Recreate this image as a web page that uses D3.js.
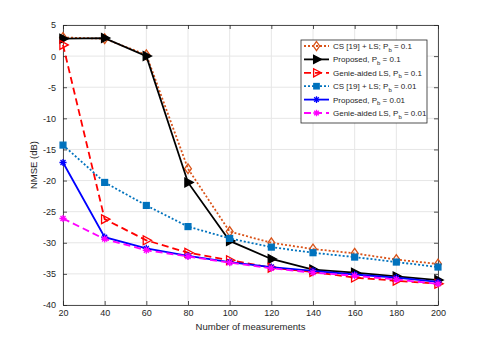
<!DOCTYPE html>
<html>
<head>
<meta charset="utf-8">
<script src="https://cdn.jsdelivr.net/npm/d3@7"></script>
<style>
  body { margin: 0; background: #fff; }
  text { font-family: "Liberation Sans", Arial, sans-serif; }
</style>
</head>
<body>
<div id="chart"></div>
<script>
// data
var measurements = [20, 40, 60, 80, 100, 120, 140, 160, 180, 200];
var yTicks = [5, 0, -5, -10, -15, -20, -25, -30, -35, -40];

var csHigh = [3.0, 2.8, 0.2, -18.1, -28.2, -30.0, -31.0, -31.7, -32.7, -33.4];
var propHigh = [2.8, 2.9, 0.0, -20.3, -29.7, -32.6, -34.3, -34.8, -35.4, -36.0];
var genieHigh = [1.8, -26.2, -29.6, -31.6, -32.8, -34.0, -34.7, -35.6, -36.1, -36.6];
var csLow = [-14.3, -20.3, -24.0, -27.4, -29.3, -30.7, -31.6, -32.3, -33.1, -33.9];
var propLow = [-17.1, -29.1, -30.9, -32.1, -33.1, -33.9, -34.5, -35.1, -35.6, -36.3];
var genieLow = [-26.1, -29.4, -31.2, -32.2, -33.2, -34.1, -34.8, -35.3, -35.9, -36.6];

var seriesNames = ["CS [19] + LS; P", "Proposed, P", "Genie-aided LS, P", "CS [19] + LS; P", "Proposed, P", "Genie-aided LS, P"];
var seriesPb = ["0.1", "0.1", "0.1", "0.01", "0.01", "0.01"];

var series = [
  { values: csHigh, color: "#D95319", dash: "2,2", marker: "diamond", fill: false },
  { values: propHigh, color: "#000000", dash: null, marker: "tri", fill: true },
  { values: genieHigh, color: "#FF0000", dash: "7,4", marker: "tri", fill: false },
  { values: csLow, color: "#0072BD", dash: "2,2", marker: "square", fill: true },
  { values: propLow, color: "#0000FF", dash: null, marker: "star", fill: false },
  { values: genieLow, color: "#FF00FF", dash: "7,4", marker: "star", fill: false }
];

var svgWidth = 485;
var svgHeight = 343;
var margin = { top: 25, right: 47, bottom: 38, left: 63 };
var chartWidth = svgWidth - margin.left - margin.right;
var chartHeight = svgHeight - margin.top - margin.bottom;

var svg = d3.select("#chart")
  .append("svg")
  .attr("width", svgWidth)
  .attr("height", svgHeight);

var chartGroup = svg.append("g")
  .attr("transform", `translate(${margin.left}, ${margin.top})`);

var xScale = d3.scaleLinear().domain([20, 200]).range([0, chartWidth]);
var yScale = d3.scaleLinear().domain([-40, 5]).range([chartHeight, 0]);

// grid
chartGroup.append("g")
  .selectAll("line")
  .data(measurements)
  .enter()
  .append("line")
  .attr("x1", d => xScale(d)).attr("x2", d => xScale(d))
  .attr("y1", 0).attr("y2", chartHeight)
  .attr("stroke", "#e6e6e6").attr("stroke-width", 1);

chartGroup.append("g")
  .selectAll("line")
  .data(yTicks)
  .enter()
  .append("line")
  .attr("y1", d => yScale(d)).attr("y2", d => yScale(d))
  .attr("x1", 0).attr("x2", chartWidth)
  .attr("stroke", "#e6e6e6").attr("stroke-width", 1);

// axes (MATLAB style, ticks inward on all sides)
var bottomAxis = d3.axisBottom(xScale).tickValues(measurements).tickSizeInner(-4).tickSizeOuter(0).tickPadding(5).tickFormat(d => String(d));
var leftAxis = d3.axisLeft(yScale).tickValues(yTicks).tickSizeInner(-4).tickSizeOuter(0).tickPadding(7).tickFormat(d => String(d));
var topAxis = d3.axisTop(xScale).tickValues(measurements).tickSizeInner(-4).tickSizeOuter(0).tickFormat("");
var rightAxis = d3.axisRight(yScale).tickValues(yTicks).tickSizeInner(-4).tickSizeOuter(0).tickFormat("");

var axes = [
  chartGroup.append("g").attr("transform", `translate(0, ${chartHeight})`).call(bottomAxis),
  chartGroup.append("g").call(leftAxis),
  chartGroup.append("g").call(topAxis),
  chartGroup.append("g").attr("transform", `translate(${chartWidth}, 0)`).call(rightAxis)
];
axes.forEach(function(a) {
  a.selectAll("path").attr("stroke", "#262626").attr("stroke-width", 0.8);
  a.selectAll("line").attr("stroke", "#262626").attr("stroke-width", 0.8);
  a.selectAll("text").attr("fill", "#262626").attr("font-size", 9)
    .style("font-family", "Liberation Sans, Arial, sans-serif");
});

// marker drawing
function drawMarker(g, s, x, y, size) {
  var sw = 1.3;
  var fill = s.fill ? s.color : "none";
  if (s.marker === "diamond") {
    var r = size * 0.75;
    g.append("path")
      .attr("d", `M${x},${y - r}L${x + r * 0.7},${y}L${x},${y + r}L${x - r * 0.7},${y}Z`)
      .attr("fill", fill).attr("stroke", s.color).attr("stroke-width", sw);
  } else if (s.marker === "tri") {
    var r = size * 0.8;
    g.append("path")
      .attr("d", `M${x + r},${y}L${x - r * 0.6},${y - r * 0.85}L${x - r * 0.6},${y + r * 0.85}Z`)
      .attr("fill", fill).attr("stroke", s.color).attr("stroke-width", sw);
  } else if (s.marker === "square") {
    var r = size * 0.45;
    g.append("rect")
      .attr("x", x - r).attr("y", y - r).attr("width", 2 * r).attr("height", 2 * r)
      .attr("fill", fill).attr("stroke", s.color).attr("stroke-width", sw);
  } else {
    var r = size * 0.55;
    var d = `M${x - r},${y}L${x + r},${y}M${x},${y - r}L${x},${y + r}` +
      `M${x - r * 0.7},${y - r * 0.7}L${x + r * 0.7},${y + r * 0.7}M${x - r * 0.7},${y + r * 0.7}L${x + r * 0.7},${y - r * 0.7}`;
    g.append("path").attr("d", d).attr("fill", "none").attr("stroke", s.color).attr("stroke-width", sw);
  }
}

var line = d3.line()
  .x((d, i) => xScale(measurements[i]))
  .y(d => yScale(d));

var linesGroup = chartGroup.append("g");
series.forEach(function(s) {
  var g = linesGroup.append("g");
  g.append("path")
    .attr("d", line(s.values))
    .attr("fill", "none")
    .attr("stroke", s.color)
    .attr("stroke-width", 1.8)
    .attr("stroke-dasharray", s.dash);
  s.values.forEach(function(v, i) {
    drawMarker(g, s, xScale(measurements[i]), yScale(v), 6.5);
  });
});

// axis labels
svg.append("text")
  .attr("x", margin.left + chartWidth / 2)
  .attr("y", 330)
  .attr("text-anchor", "middle")
  .attr("font-size", 9.5)
  .attr("fill", "#262626")
  .text("Number of measurements");

svg.append("text")
  .attr("transform", `translate(37, ${margin.top + chartHeight / 2}) rotate(-90)`)
  .attr("text-anchor", "middle")
  .attr("font-size", 9.5)
  .attr("fill", "#262626")
  .text("NMSE (dB)");

// legend
var legend = svg.append("g").attr("transform", "translate(301, 40)");
legend.append("rect")
  .attr("width", 126).attr("height", 83)
  .attr("fill", "#fff").attr("stroke", "#262626").attr("stroke-width", 0.8);

series.forEach(function(s, i) {
  var y = 6 + i * 13.4;
  var row = legend.append("g");
  row.append("line")
    .attr("x1", 3).attr("x2", 28).attr("y1", y).attr("y2", y)
    .attr("stroke", s.color).attr("stroke-width", 1.8)
    .attr("stroke-dasharray", s.dash);
  drawMarker(row, s, 15.5, y, 6);
  var t = row.append("text")
    .attr("x", 32).attr("y", y + 3)
    .attr("font-size", 8)
    .attr("fill", "#262626");
  t.append("tspan").text(seriesNames[i]);
  t.append("tspan").attr("dy", 2.5).attr("font-size", 6).text("b");
  t.append("tspan").attr("dy", -2.5).text(" = " + seriesPb[i]);
});
</script>
</body>
</html>
